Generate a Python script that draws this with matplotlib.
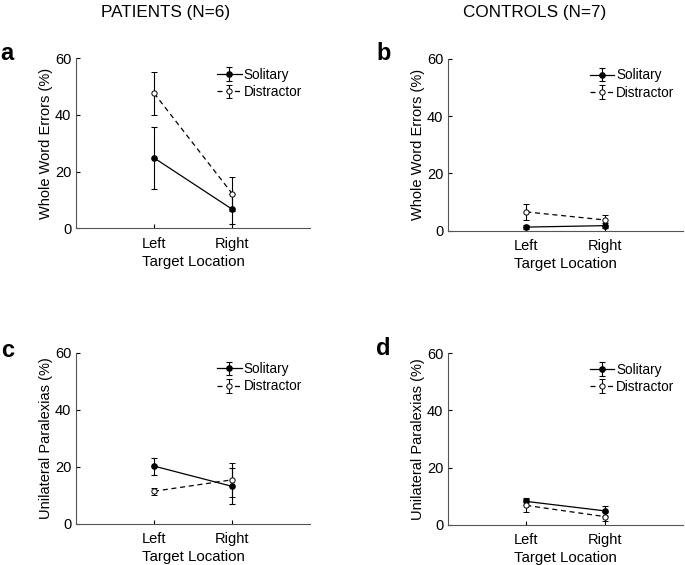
import matplotlib
matplotlib.use("Agg")
import matplotlib.pyplot as plt

plt.rcParams['font.family'] = ['Liberation Sans', 'DejaVu Sans']
plt.rcParams['font.size'] = 10

# Data (percent)
locations = ['Left', 'Right']
x_pos = [1, 2]

# a: patients, whole word errors
a_sol = [24.8, 6.7]
a_sol_err = [11.0, 5.3]
a_dis = [47.6, 12.2]
a_dis_err = [7.5, 6.0]

# b: controls, whole word errors
b_sol = [1.2, 1.7]
b_sol_err = [0.8, 0.9]
b_dis = [6.5, 3.7]
b_dis_err = [2.7, 1.6]

# c: patients, unilateral paralexias
c_sol = [20.2, 13.1]
c_sol_err = [3.0, 6.3]
c_dis = [11.4, 15.4]
c_dis_err = [1.3, 6.0]

# d: controls, unilateral paralexias
d_sol = [8.2, 4.9]
d_sol_err = [1.2, 1.7]
d_dis = [6.8, 2.9]
d_dis_err = [2.3, 1.7]

panels = [
    ('a', a_sol, a_sol_err, a_dis, a_dis_err, 'Whole Word Errors (%)'),
    ('b', b_sol, b_sol_err, b_dis, b_dis_err, 'Whole Word Errors (%)'),
    ('c', c_sol, c_sol_err, c_dis, c_dis_err, 'Unilateral Paralexias (%)'),
    ('d', d_sol, d_sol_err, d_dis, d_dis_err, 'Unilateral Paralexias (%)'),
]

# axes rectangles in figure fractions
rects = [
    [0.111, 0.596, 0.342, 0.301],
    [0.654, 0.592, 0.343, 0.304],
    [0.111, 0.073, 0.342, 0.303],
    [0.654, 0.071, 0.343, 0.304],
]
letter_pos = [(0.001, 0.905), (0.549, 0.905), (0.001, 0.380), (0.549, 0.383)]

fig = plt.figure(figsize=(6.85, 5.65), dpi=100)

for (letter, sol, sol_err, dis, dis_err, ylab), rect, lp in zip(panels, rects, letter_pos):
    ax = fig.add_axes(rect)
    ax.errorbar(x_pos, sol, yerr=sol_err, color='black', linestyle='-', linewidth=0.9,
                marker='o', markersize=3.8, markerfacecolor='black',
                capsize=2.0, elinewidth=0.8, capthick=0.8, label='Solitary')
    ax.errorbar(x_pos, dis, yerr=dis_err, color='black', linestyle=(0, (4, 3)), linewidth=0.9,
                marker='o', markersize=3.8, markerfacecolor='white', markeredgewidth=0.7,
                capsize=2.0, elinewidth=0.8, capthick=0.8, label='Distractor')
    ax.set_xlim(0, 3)
    ax.set_ylim(0, 60)
    ax.set_xticks(x_pos)
    ax.set_xticklabels(locations)
    ax.set_yticks([0, 20, 40, 60])
    ax.tick_params(direction='in', length=3, width=0.8, labelsize=10.5)
    ax.tick_params(axis='x', pad=6)
    ax.spines['top'].set_visible(False)
    ax.spines['right'].set_visible(False)
    ax.spines['left'].set_color('#555555')
    ax.spines['bottom'].set_color('#555555')
    ax.set_xlabel('Target Location', fontsize=10.8, labelpad=3)
    ax.set_ylabel(ylab, fontsize=10.5, labelpad=1)
    ax.legend(loc='upper right', frameon=False, fontsize=9.8, handlelength=1.8,
              handletextpad=0.15, labelspacing=0.25, borderaxespad=0.3,
              bbox_to_anchor=(1.005, 1.0))
    fig.text(lp[0], lp[1], letter, fontsize=17, fontweight='bold', va='center', ha='left')

fig.text(0.241, 0.978, 'PATIENTS (N=6)', fontsize=12.3, ha='center', va='center')
fig.text(0.781, 0.978, 'CONTROLS (N=7)', fontsize=12.3, ha='center', va='center')

fig.savefig('out.png', dpi=100)
